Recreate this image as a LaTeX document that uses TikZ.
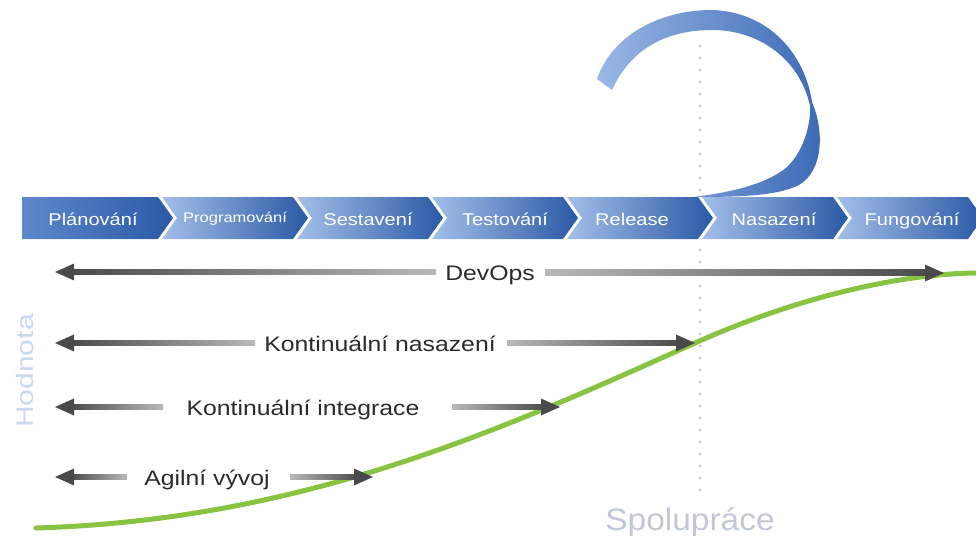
\documentclass[tikz,border=0pt]{standalone}
\usepackage{fontspec}
\setmainfont{Liberation Sans}
\usepackage{graphicx}
\usetikzlibrary{calc}
\definecolor{chl}{HTML}{A3BFE8}
\definecolor{chm}{HTML}{5F88CB}
\definecolor{chd}{HTML}{2B59A6}
\definecolor{rbl}{HTML}{9AB7E5}
\definecolor{rbd}{HTML}{3B6AB6}
\definecolor{adark}{HTML}{4A4A4A}
\definecolor{alight}{HTML}{B8B8B8}
\definecolor{grn}{HTML}{88C442}
\definecolor{dotc}{HTML}{B9C1D8}
\definecolor{hodc}{HTML}{C8D9EF}
\definecolor{spc}{HTML}{C0C8D8}
\definecolor{lblc}{HTML}{2B2B2B}
\newcommand\wide[2][1.18]{\scalebox{#1}[1]{#2}}
\newcommand\chev[3][chl]{\shade[left color=#1,right color=chd] (#2-15,197) -- (#3-15,197) -- (#3,218) -- (#3-15,239) -- (#2-15,239) -- (#2,218) -- cycle;}
\newcommand\arrL[2]{%
  \shade[left color=adark,right color=alight] ($(#1)+(14,-2.4)$) rectangle ($(#2)+(0,2.4)$);
  \fill[adark] (#1) -- ($(#1)+(19,-8.5)$) -- ($(#1)+(19,8.5)$) -- cycle;}
\newcommand\arrR[2]{%
  \shade[left color=alight,right color=adark] ($(#1)+(0,-2.4)$) rectangle ($(#2)+(-14,2.4)$);
  \fill[adark] (#2) -- ($(#2)+(-19,-8.5)$) -- ($(#2)+(-19,8.5)$) -- cycle;}
\begin{document}
\begin{tikzpicture}[x=1pt,y=-1pt,
  chevlbl/.style={text=white,inner sep=0pt,anchor=base,font=\fontsize{17}{20}\selectfont},
  rowlbl/.style={text=lblc,inner sep=0pt,anchor=base,font=\fontsize{21}{25}\selectfont},
  dotline/.style={dotc,line width=2.8pt,dash pattern=on 0pt off 12pt,line cap=round}]
\useasboundingbox (0,0) rectangle (976,535);
\fill[white] (0,0) rectangle (976,535);

% ribbon
\shade[left color=rbl,right color=rbd]
  (597,79) .. controls (612,35) and (660,10) .. (712,10)
  .. controls (770,12) and (805,55) .. (812,102)
  .. controls (824,130) and (824,170) .. (799,185)
  .. controls (777,196) and (740,197) .. (693,197)
  .. controls (735,192) and (768,183) .. (787,167)
  .. controls (803,152) and (811,125) .. (810,106)
  .. controls (800,60) and (760,30) .. (712,30)
  .. controls (665,30) and (630,50) .. (612,90) -- cycle;

% dotted vertical line
\coordinate (d1) at (700,46); \coordinate (d2) at (700,190);
\coordinate (d3) at (700,250); \coordinate (d4) at (700,490);
\draw[dotline] (d1) -- (d2);
\draw[dotline] (d3) -- (d4);

% chevrons
\shade[left color=chm,right color=chd] (22,197) -- (158,197) -- (173,218) -- (158,239) -- (22,239) -- cycle;
\chev{177}{308}
\chev{312}{443}
\chev{447}{578}
\chev{582}{713}
\chev{717}{848}
\chev{852}{983}
\node[chevlbl] (c1) at (93,225) {\wide{Plánování}};
\node[chevlbl,font=\fontsize{14}{17}\selectfont] (c2) at (235,222) {\wide{Programování}};
\node[chevlbl] (c3) at (368,225) {\wide{Sestavení}};
\node[chevlbl] (c4) at (505,225) {\wide{Testování}};
\node[chevlbl] (c5) at (632,225) {\wide{Release}};
\node[chevlbl] (c6) at (774,225) {\wide{Nasazení}};
\node[chevlbl] (c7) at (912,225) {\wide{Fungování}};

% green value curve
\coordinate (g0) at (36,528); \coordinate (g1) at (695,343); \coordinate (g2) at (976,273);
\draw[grn,line width=5pt,line cap=round] (g0) .. controls (300,520) and (495,433) .. (g1)
  .. controls (785,302.5) and (890,274) .. (g2);

% rows
\node[rowlbl] (devops) at (490,280) {\wide{DevOps}};
\coordinate (devL) at (55,272); \coordinate (devA) at (436,272);
\coordinate (devB) at (545,272); \coordinate (devR) at (944,273);
\arrL{devL}{devA} \arrR{devB}{devR}

\node[rowlbl] (kn) at (380,351) {\wide{Kontinuální nasazení}};
\coordinate (knL) at (55,343); \coordinate (knA) at (255,343);
\coordinate (knB) at (507,343); \coordinate (knR) at (695,343);
\arrL{knL}{knA} \arrR{knB}{knR}

\node[rowlbl] (ki) at (303,415) {\wide{Kontinuální integrace}};
\coordinate (kiL) at (55,407); \coordinate (kiA) at (163,407);
\coordinate (kiB) at (452,407); \coordinate (kiR) at (560,407);
\arrL{kiL}{kiA} \arrR{kiB}{kiR}

\node[rowlbl] (ag) at (207,485) {\wide{Agilní vývoj}};
\coordinate (agL) at (55,477); \coordinate (agA) at (127,477);
\coordinate (agB) at (290,477); \coordinate (agR) at (373,477);
\arrL{agL}{agA} \arrR{agB}{agR}

% axis labels
\node[text=hodc,inner sep=0pt,rotate=90,font=\fontsize{30}{34}\selectfont] (hod) at (25,371) {\scalebox{1}[0.8]{Hodnota}};
\node[text=spc,inner sep=0pt,anchor=base,font=\fontsize{31}{36}\selectfont] (spol) at (690,530) {\wide[1.08]{Spolupráce}};
\end{tikzpicture}
\end{document}
